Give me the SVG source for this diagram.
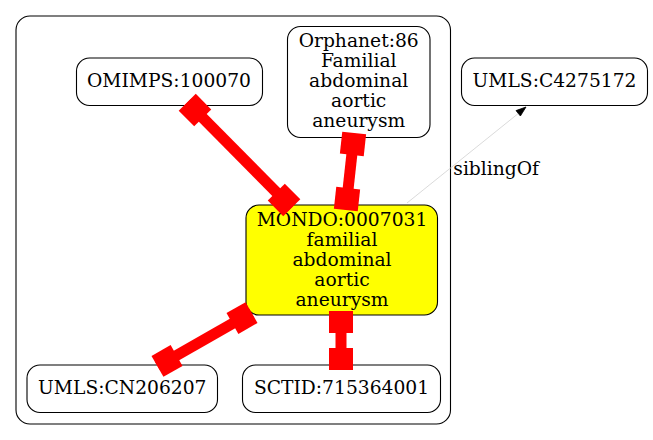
<svg xmlns="http://www.w3.org/2000/svg" width="653" height="440" viewBox="0 0 653 440">
<style>
.node rect{fill:#fff;stroke:#000;stroke-width:1.1}
.node.main rect{fill:#ffff00}
text{font-family:"DejaVu Serif","Liberation Serif",serif;font-size:18.7px;fill:#000;text-anchor:middle}
.eq line{stroke:#ff0000;stroke-width:11}
.eq rect{fill:#ff0000}
.sib{stroke:#d0d0d0;stroke-width:0.8;fill:none}
</style>
<rect id="cluster" x="16" y="16" width="434.5" height="408" rx="14" fill="none" stroke="#000" stroke-width="1.1"/>
<g id="OMIMPS_100070" class="node"><rect x="76.5" y="58" width="186" height="47.5" rx="13"/><text x="169" y="87.3">OMIMPS:100070</text></g>
<g id="Orphanet_86" class="node"><rect x="287.5" y="26.5" width="142.5" height="111" rx="13"/>
<text x="358.7" y="46.7">Orphanet:86</text><text x="358.7" y="66.7">Familial</text><text x="358.7" y="86.7">abdominal</text><text x="358.7" y="106.7">aortic</text><text x="358.7" y="126.7">aneurysm</text></g>
<g id="UMLS_C4275172" class="node"><rect x="461.5" y="58" width="186" height="47.5" rx="13"/><text x="554.5" y="87.3">UMLS:C4275172</text></g>
<g id="MONDO_0007031" class="node main"><rect x="246" y="205" width="191.5" height="110" rx="13"/>
<text x="342" y="225.7">MONDO:0007031</text><text x="342" y="245.7">familial</text><text x="342" y="265.7">abdominal</text><text x="342" y="285.7">aortic</text><text x="342" y="305.7">aneurysm</text></g>
<g id="UMLS_CN206207" class="node"><rect x="27" y="365" width="190.5" height="47.5" rx="13"/><text x="122.3" y="393.5">UMLS:CN206207</text></g>
<g id="SCTID_715364001" class="node"><rect x="242.5" y="365" width="198" height="47.5" rx="13"/><text x="341.5" y="393.5">SCTID:715364001</text></g>
<g id="connectors">
<g class="eq" transform="translate(239.5,155) rotate(45.3)"><line x1="-74" y1="0" x2="74" y2="0"/><rect x="-74.3" y="-12" width="22" height="24"/><rect x="52.3" y="-12" width="22" height="24"/></g>
<g class="eq" transform="translate(350,171.5) rotate(96.2)"><line x1="-38" y1="0" x2="38" y2="0"/><rect x="-38.7" y="-12" width="22" height="24"/><rect x="16.7" y="-12" width="22" height="24"/></g>
<g class="eq" transform="translate(204.5,339.5) rotate(-29.8)"><line x1="-54" y1="0" x2="54" y2="0"/><rect x="-54.2" y="-12" width="22" height="24"/><rect x="32.2" y="-12" width="22" height="24"/></g>
<g class="eq" transform="translate(341,340.5) rotate(90)"><line x1="-29" y1="0" x2="29" y2="0"/><rect x="-29.5" y="-12" width="22" height="24"/><rect x="7.5" y="-12" width="22" height="24"/></g>
<g id="sibling"><line class="sib" x1="407" y1="203" x2="518.5" y2="113.3"/><polygon points="526,107 520.4,116 516,110.6" fill="#000" stroke="#000" stroke-width="0.8"/><text x="453.3" y="175" style="text-anchor:start">siblingOf</text></g>
</g>
</svg>
